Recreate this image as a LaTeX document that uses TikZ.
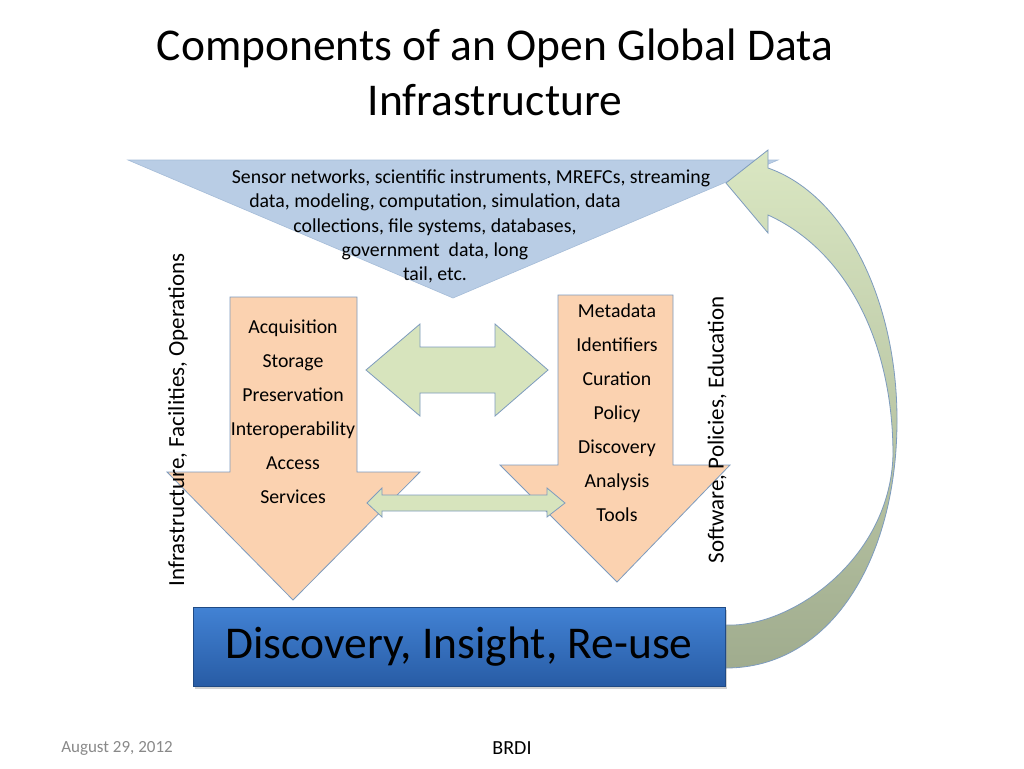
\documentclass[tikz,border=0pt]{standalone}
\usepackage{fontspec}
\setmainfont{Carlito}
\usetikzlibrary{shadows}
\definecolor{SourceClr}{RGB}{185,205,229}
\definecolor{SourceLine}{RGB}{165,188,216}
\definecolor{StackClr}{RGB}{251,210,176}
\definecolor{EdgeClr}{RGB}{125,155,190}
\definecolor{LinkClr}{RGB}{215,228,189}
\definecolor{LoopTop}{RGB}{218,231,194}
\definecolor{LoopBot}{RGB}{160,172,142}
\definecolor{GoalTop}{RGB}{66,130,212}
\definecolor{GoalBot}{RGB}{40,92,165}
\definecolor{DateClr}{RGB}{137,137,137}
\tikzset{
  shapeline/.style={draw=EdgeClr,line width=0.8pt,line join=miter},
  listtext/.style={align=center,inner sep=0pt,font=\fontsize{19.8}{34}\selectfont},
  sidetext/.style={rotate=90,inner sep=0pt,font=\fontsize{23}{26}\selectfont},
  goalbox/.style={rectangle,top color=GoalTop,bottom color=GoalBot,draw=GoalBot!80!black,
    line width=0.6pt,minimum width=532pt,minimum height=79pt,inner sep=0pt,
    drop shadow={opacity=0.35,shadow xshift=2pt,shadow yshift=-3pt},
    font=\fontsize{45.5}{50}\selectfont}
}

\begin{document}
\begin{tikzpicture}[x=1pt,y=-1pt]
\useasboundingbox[fill=white] (0,0) rectangle (1024,768);

% sources
\coordinate (S1) at (128,160);
\coordinate (S2) at (778,160);
\coordinate (S3) at (453,298);
\fill[SourceClr,draw=SourceLine,line width=0.6pt] (S1) -- (S2) -- (S3) -- cycle;

% loop back to the sources
\shadedraw[top color=LoopTop,bottom color=LoopBot,shapeline]
  (726,183) -- (768,150) -- (768,168)
  .. controls (845,195) and (897,300) .. (897,420)
  .. controls (897,560) and (830,668) .. (726,668)
  -- (726,625)
  .. controls (790,628) and (890,560) .. (893,455)
  .. controls (893,340) and (845,250) .. (768,215)
  -- (768,233) -- cycle;

% the two stacks
\fill[StackClr,shapeline] (230,297) -- (357,297) -- (357,472) -- (420,472)
  -- (293,600) -- (167,472) -- (230,472) -- cycle;
\fill[StackClr,shapeline] (558,295) -- (673,295) -- (673,465) -- (730,465)
  -- (617,582) -- (500,465) -- (558,465) -- cycle;

% links between them
\fill[LinkClr,shapeline] (366,370) -- (420,324) -- (420,347) -- (495,347)
  -- (495,324) -- (548,370) -- (495,416) -- (495,393) -- (420,393)
  -- (420,416) -- cycle;
\fill[LinkClr,shapeline] (367,503) -- (382,488) -- (382,495) -- (547,495)
  -- (547,488) -- (565,503) -- (547,517) -- (547,511) -- (382,511)
  -- (382,517) -- cycle;

\node[goalbox] (goal) at (459,646.5) {Discovery, Insight, Re-use};

\node[align=center,inner sep=0pt,font=\fontsize{45.5}{55}\selectfont] (title) at (495,72)
  {Components of an Open Global Data\\Infrastructure};
\node[align=center,inner sep=0pt,font=\fontsize{19.8}{24.3}\selectfont] (sourcetext) at (435,226.5)
  {\hspace*{72pt}Sensor networks, scientific instruments, MREFCs, streaming\\
   data, modeling, computation, simulation, data\\
   collections, file systems, databases,\\
   government\ \ data, long\\
   tail, etc.};
\node[listtext] (infralist) at (293,412)
  {Acquisition\\Storage\\Preservation\\Interoperability\\Access\\Services};
\node[listtext] (softlist) at (617,413)
  {Metadata\\Identifiers\\Curation\\Policy\\Discovery\\Analysis\\Tools};
\node[sidetext] (infra) at (178,420) {Infrastructure, Facilities, Operations};
\node[sidetext] (soft) at (717,430) {Software, Policies, Education};

\node[inner sep=0pt,text=DateClr,font=\fontsize{17}{19}\selectfont] (date) at (117,748) {August 29, 2012};
\node[inner sep=0pt,font=\fontsize{20}{22}\selectfont] (brdi) at (512,748) {BRDI};
\end{tikzpicture}
\end{document}
